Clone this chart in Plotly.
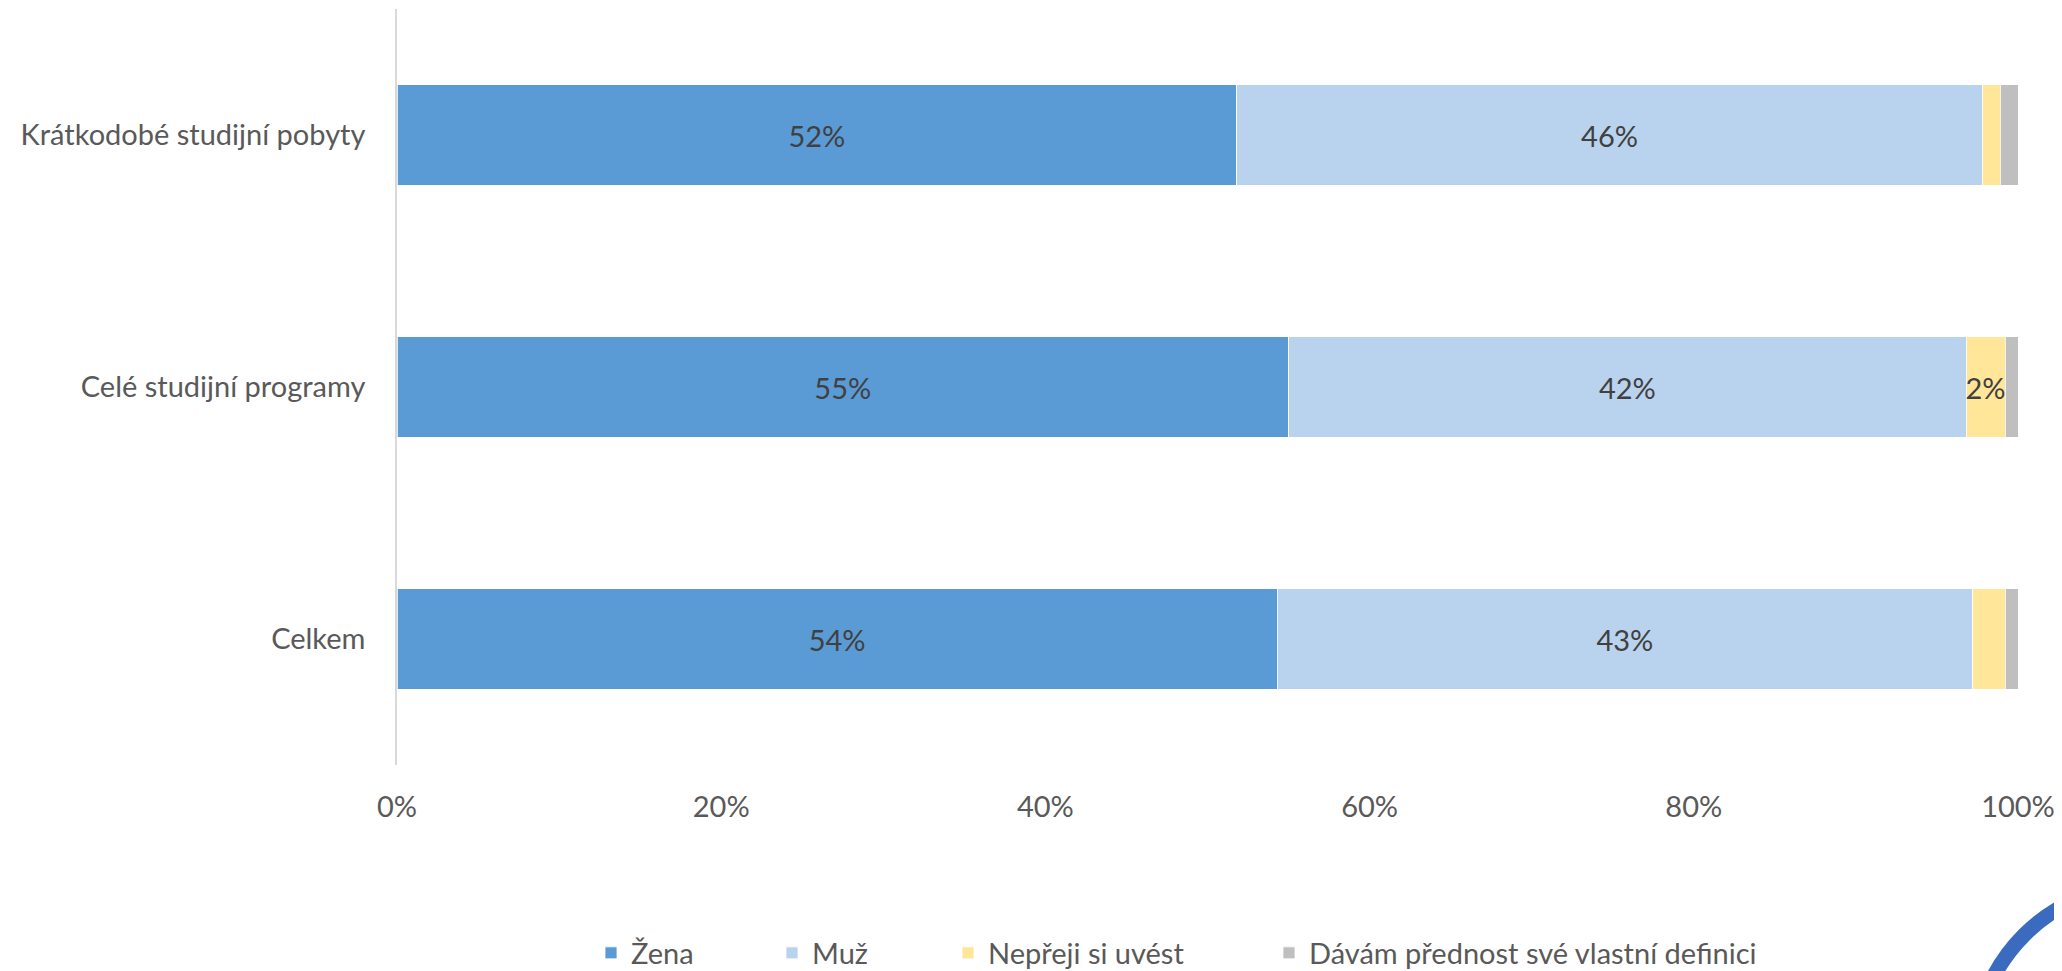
import plotly.graph_objects as go

categories = ["Krátkodobé studijní pobyty", "Celé studijní programy", "Celkem"]
series_names = ["Žena", "Muž", "Nepřeji si uvést", "Dávám přednost své vlastní definici"]
zena = [51.8, 55.0, 54.3]
muz = [46.0, 41.8, 42.9]
neprejisi = [1.1, 2.4, 2.0]
vlastni = [1.1, 0.8, 0.8]
# which data labels are shown in the original
show_zena = [True, True, True]
show_muz = [True, True, True]
show_neprejisi = [False, True, False]
show_vlastni = [False, False, False]
x_ticks = [0, 20, 40, 60, 80, 100]
x_tick_labels = ["0%", "20%", "40%", "60%", "80%", "100%"]

colors = ["#5B9BD5", "#B9D3EE", "#FFE699", "#BFBFBF"]
values = [zena, muz, neprejisi, vlastni]
shows = [show_zena, show_muz, show_neprejisi, show_vlastni]

FONT = "Lato, 'Open Sans', sans-serif"
FS = 29
OFF = 8  # default body margin of the html page
W, H = 2062 - OFF, 971 - OFF
L, T = 397 - OFF, 9 - OFF
pw, ph = 1621, 756
R, B = W - L - pw, H - T - ph

def px_x(p):  # screen px -> paper
    return (p - OFF - L) / pw

def px_y(p):
    return (T + ph - (p - OFF)) / ph

legend_px = [591, 772, 948, 1269]
legend_keys = ["legend", "legend2", "legend3", "legend4"]

fig = go.Figure()
for i, (name, vals, show, col) in enumerate(zip(series_names, values, shows, colors)):
    texts = [f"{round(v)}%" if s else "" for v, s in zip(vals, show)]
    fig.add_trace(go.Bar(
        y=categories, x=vals, name=name, orientation="h",
        marker=dict(color=col, line=dict(color="white", width=0.8)),
        text=texts, textposition="inside", insidetextanchor="middle", textangle=0,
        textfont=dict(family=FONT, size=FS, color="#404040"),
        constraintext="none", cliponaxis=False,
        legend=legend_keys[i], hoverinfo="x+name",
    ))

layout_legends = {}
for key, xp in zip(legend_keys, legend_px):
    layout_legends[key] = dict(
        x=px_x(xp), y=px_y(953), xanchor="left", yanchor="middle",
        orientation="h", font=dict(family=FONT, size=FS, color="#595959"),
        bgcolor="rgba(0,0,0,0)", borderwidth=0,
    )

fig.update_layout(
    width=W, height=H,
    barmode="stack", bargap=0.6,
    plot_bgcolor="white", paper_bgcolor="white",
    margin=dict(l=L, r=R, t=T, b=B, autoexpand=False),
    font=dict(family=FONT, size=FS, color="#595959"),
    xaxis=dict(range=[0, 100], tickvals=x_ticks, ticktext=x_tick_labels,
               showgrid=False, zeroline=False, showline=False, ticks="",
               ticklabelstandoff=22,
               tickfont=dict(family=FONT, size=FS, color="#595959")),
    yaxis=dict(categoryorder="array", categoryarray=categories, autorange="reversed",
               showgrid=False, zeroline=False, showline=True, linecolor="#D9D9D9", linewidth=1.5,
               ticks="", ticklabelstandoff=24,
               tickfont=dict(family=FONT, size=FS, color="#595959")),
    shapes=[dict(type="circle", xref="paper", yref="paper",
                 x0=px_x(1974), x1=px_x(2316), y0=px_y(885), y1=px_y(1227),
                 line=dict(color="#3A6BBF", width=15), fillcolor="rgba(0,0,0,0)",
                 layer="above")],
    showlegend=True,
    **layout_legends,
)

fig.write_html("out.html")
